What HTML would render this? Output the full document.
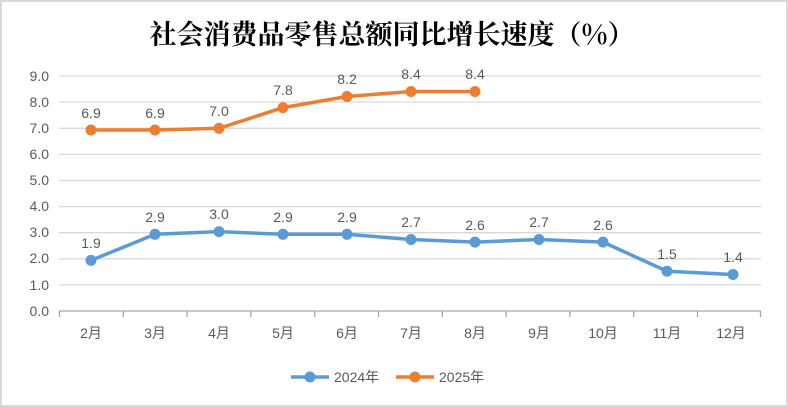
<!DOCTYPE html>
<html><head><meta charset="utf-8"><style>
html,body{margin:0;padding:0;background:#fff}
svg{display:block}
text{font-family:"Liberation Sans","Noto Sans CJK SC",sans-serif;fill:#595959}
</style></head><body>
<svg width="788" height="407" viewBox="0 0 788 407" xmlns="http://www.w3.org/2000/svg">
<rect x="1" y="1" width="786" height="405" fill="#fff" stroke="#d9d9d9" stroke-width="2"/>
<text x="392" y="44" text-anchor="middle" style="font-family:'Noto Serif CJK SC','Noto Sans CJK SC',serif;font-size:27px;font-weight:bold;fill:#000">社会消费品零售总额同比增长速度（%）</text>
<g stroke="#d9d9d9" stroke-width="1.3">
<line x1="59" x2="761" y1="76" y2="76"/><line x1="59" x2="761" y1="102" y2="102"/>
<line x1="59" x2="761" y1="128.3" y2="128.3"/><line x1="59" x2="761" y1="154.4" y2="154.4"/>
<line x1="59" x2="761" y1="180.5" y2="180.5"/><line x1="59" x2="761" y1="206.6" y2="206.6"/>
<line x1="59" x2="761" y1="232.7" y2="232.7"/><line x1="59" x2="761" y1="258.8" y2="258.8"/>
<line x1="59" x2="761" y1="284.9" y2="284.9"/>
</g>
<g stroke="#a6a6a6" stroke-width="1.3">
<line x1="59" x2="761" y1="311" y2="311"/>
<line x1="59.5" x2="59.5" y1="311" y2="317"/><line x1="123.3" x2="123.3" y1="311" y2="317"/>
<line x1="187.1" x2="187.1" y1="311" y2="317"/><line x1="250.9" x2="250.9" y1="311" y2="317"/>
<line x1="314.7" x2="314.7" y1="311" y2="317"/><line x1="378.5" x2="378.5" y1="311" y2="317"/>
<line x1="442.3" x2="442.3" y1="311" y2="317"/><line x1="506.1" x2="506.1" y1="311" y2="317"/>
<line x1="569.9" x2="569.9" y1="311" y2="317"/><line x1="633.7" x2="633.7" y1="311" y2="317"/>
<line x1="697.5" x2="697.5" y1="311" y2="317"/><line x1="760.5" x2="760.5" y1="311" y2="317"/>
</g>
<g font-size="14" text-anchor="end">
<text x="49" y="81">9.0</text><text x="49" y="107">8.0</text><text x="49" y="133">7.0</text>
<text x="49" y="159">6.0</text><text x="49" y="185">5.0</text><text x="49" y="211">4.0</text>
<text x="49" y="237">3.0</text><text x="49" y="263">2.0</text><text x="49" y="290">1.0</text>
<text x="49" y="316">0.0</text>
</g>
<g font-size="14" text-anchor="middle">
<text x="91" y="338">2月</text><text x="155" y="338">3月</text><text x="219" y="338">4月</text>
<text x="283" y="338">5月</text><text x="347" y="338">6月</text><text x="411" y="338">7月</text>
<text x="475" y="338">8月</text><text x="539" y="338">9月</text><text x="603" y="338">10月</text>
<text x="667" y="338">11月</text><text x="731" y="338">12月</text>
</g>
<polyline fill="none" stroke="#5b9bd5" stroke-width="3.5" stroke-linejoin="round" points="91,260.4 155,234.3 219,231.6 283,234.3 347,234.3 411,239.5 475,242.1 539,239.5 603,242.1 667,271.2 733,274.5"/>
<g fill="#5b9bd5">
<circle cx="91" cy="260.4" r="5.5"/><circle cx="155" cy="234.3" r="5.5"/><circle cx="219" cy="231.6" r="5.5"/>
<circle cx="283" cy="234.3" r="5.5"/><circle cx="347" cy="234.3" r="5.5"/><circle cx="411" cy="239.5" r="5.5"/>
<circle cx="475" cy="242.1" r="5.5"/><circle cx="539" cy="239.5" r="5.5"/><circle cx="603" cy="242.1" r="5.5"/>
<circle cx="667" cy="271.2" r="5.5"/><circle cx="733" cy="274.5" r="5.5"/>
</g>
<polyline fill="none" stroke="#ed7d31" stroke-width="3.5" stroke-linejoin="round" points="91,130 155,130 219,128.3 283,107.6 347,96.5 411,91.5 475,91.5"/>
<g fill="#ed7d31">
<circle cx="91" cy="130" r="5.5"/><circle cx="155" cy="130" r="5.5"/><circle cx="219" cy="128.3" r="5.5"/>
<circle cx="283" cy="107.6" r="5.5"/><circle cx="347" cy="96.5" r="5.5"/><circle cx="411" cy="91.5" r="5.5"/>
<circle cx="475" cy="91.5" r="5.5"/>
</g>
<g font-size="14" text-anchor="middle">
<text x="91" y="248">1.9</text><text x="155" y="222">2.9</text><text x="219" y="219">3.0</text>
<text x="283" y="222">2.9</text><text x="347" y="222">2.9</text><text x="411" y="227">2.7</text>
<text x="475" y="230">2.6</text><text x="539" y="227">2.7</text><text x="603" y="230">2.6</text>
<text x="667" y="259">1.5</text><text x="733" y="262">1.4</text>
<text x="91" y="118">6.9</text><text x="155" y="118">6.9</text><text x="219" y="116">7.0</text>
<text x="283" y="95">7.8</text><text x="347" y="84">8.2</text><text x="411" y="79">8.4</text>
<text x="475" y="79">8.4</text>
</g>
<line x1="291" x2="329" y1="377" y2="377" stroke="#5b9bd5" stroke-width="3.5"/>
<circle cx="310" cy="377" r="5.5" fill="#5b9bd5"/>
<text x="334" y="382" font-size="14">2024年</text>
<line x1="396" x2="434" y1="377" y2="377" stroke="#ed7d31" stroke-width="3.5"/>
<circle cx="415" cy="377" r="5.5" fill="#ed7d31"/>
<text x="439" y="382" font-size="14">2025年</text>
</svg>
</body></html>
